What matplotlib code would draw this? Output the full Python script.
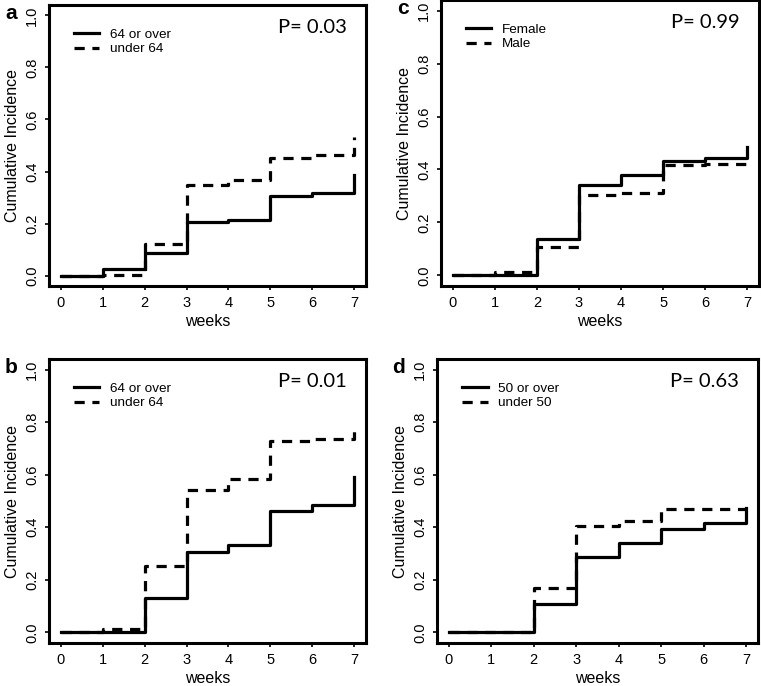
import matplotlib
matplotlib.use('Agg')
import matplotlib.pyplot as plt

plt.rcParams['font.family'] = ['Liberation Sans', 'DejaVu Sans']

# semanas
weeks = [0, 1, 2, 3, 4, 5, 6, 7]

# panel a: edad (64)
a_over = [0.0, 0.026, 0.087, 0.205, 0.215, 0.305, 0.318, 0.386]
a_under = [0.0, 0.004, 0.122, 0.347, 0.369, 0.453, 0.463, 0.532]
# panel b: edad (64)
b_over = [0.0, 0.0, 0.130, 0.307, 0.333, 0.462, 0.485, 0.593]
b_under = [0.0, 0.013, 0.253, 0.541, 0.583, 0.727, 0.737, 0.784]
# panel c: sexo
c_female = [0.0, 0.0, 0.138, 0.341, 0.381, 0.432, 0.444, 0.484]
c_male = [0.0, 0.014, 0.109, 0.305, 0.313, 0.416, 0.422, 0.425]
# panel d: edad (50)
d_over = [0.0, 0.0, 0.108, 0.286, 0.340, 0.395, 0.416, 0.473]
d_under = [0.0, 0.0, 0.171, 0.404, 0.425, 0.471, 0.471, 0.471]

panels = [
    ('a', [49/761, 1 - 286/686, 317/761, 281/686], a_over, a_under, '64 or over', 'under 64', 'P= 0.03'),
    ('c', [441/761, 1 - 286/686, 318/761, 286/686], c_female, c_male, 'Female', 'Male', 'P= 0.99'),
    ('b', [49/761, 1 - 643/686, 317/761, 284/686], b_over, b_under, '64 or over', 'under 64', 'P= 0.01'),
    ('d', [437/761, 1 - 643/686, 321/761, 284/686], d_over, d_under, '50 or over', 'under 50', 'P= 0.63'),
]

fig = plt.figure(figsize=(7.61, 6.86), dpi=100)

for letra, pos, solid, dashed, lab1, lab2, ptxt in panels:
    ax = fig.add_axes(pos)
    ax.plot(weeks, solid, drawstyle='steps-post', color='black', lw=2.3, label=lab1)
    ax.plot(weeks, dashed, drawstyle='steps-post', color='black', lw=2.3,
            dashes=(3.2, 2.4), label=lab2)
    ax.set_xlim(-0.28, 7.28)
    ax.set_ylim(-0.04, 1.04)
    ax.set_xticks(weeks)
    ax.set_yticks([0.0, 0.2, 0.4, 0.6, 0.8, 1.0])
    ax.set_yticklabels(['0.0', '0.2', '0.4', '0.6', '0.8', '1.0'], rotation=90, va='center')
    ax.tick_params(labelsize=10.5, length=3, width=1.2)
    ax.tick_params(axis='x', pad=4)
    ax.tick_params(axis='y', pad=4)
    for s in ax.spines.values():
        s.set_linewidth(2.2)
    ax.set_xlabel('weeks', fontsize=11.5, labelpad=3)
    ax.set_ylabel('Cumulative Incidence', fontsize=11.5, labelpad=4)
    ax.legend(loc='upper left', bbox_to_anchor=(0.04, 0.96), frameon=False,
              fontsize=9.7, handlelength=1.9, labelspacing=0.15, handletextpad=0.8)
    ax.text(0.94, 0.92, ptxt, transform=ax.transAxes, ha='right', va='center',
            fontsize=14.5, family=['Lato', 'DejaVu Sans'])
    ax.text(-0.12, 0.97, letra, transform=ax.transAxes, ha='center', va='center',
            fontsize=15, fontweight='bold')

fig.savefig('out.png', dpi=100)
